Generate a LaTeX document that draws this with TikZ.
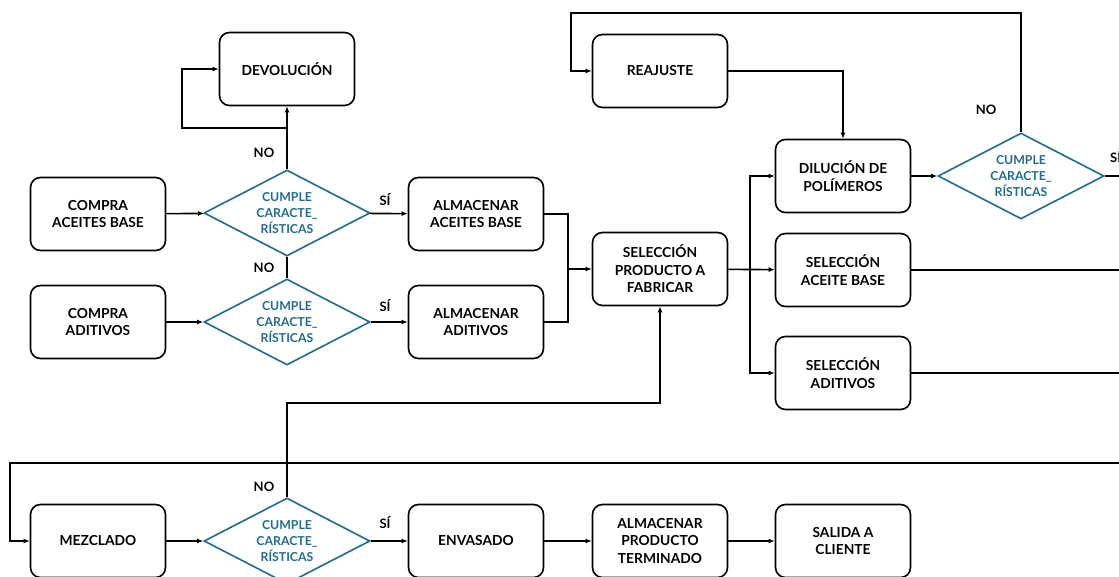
\documentclass[tikz,border=0pt]{standalone}
\usepackage{fontspec}
\setmainfont{Lato}
\usepackage{tikz}
\usetikzlibrary{shapes}
\usetikzlibrary{shapes.geometric}
\usetikzlibrary{arrows.meta}
\definecolor{azulcumple}{RGB}{35,105,140}
\newcommand{\cumple}{CUMPLE\\CARACTE\_\\RÍSTICAS}

\begin{document}
\begin{tikzpicture}[x=1pt, y=-1pt, line width=1.6pt,
    caja/.style={draw, rounded corners=10pt, minimum width=135pt,
      minimum height=73pt, align=center, inner sep=2pt,
      font=\bfseries\fontsize{13.8}{17.5}\selectfont},
    rombo/.style={diamond, draw=azulcumple, aspect=2, inner sep=0pt,
      minimum width=166pt, minimum height=86pt, align=center,
      text=azulcumple, font=\bfseries\fontsize{12.3}{16}\selectfont},
    etiq/.style={font=\bfseries\fontsize{13}{14}\selectfont},
    flecha/.style={-{Latex[length=6pt,width=5pt]}}]

    \useasboundingbox (0,0) rectangle (1119,577);
    \clip (0,0) rectangle (1119,577);

    % compras y control de entrada
    \node[caja] (devol) at (287,69) {DEVOLUCIÓN};
    \node[caja] (compraA) at (98,214) {COMPRA\\ACEITES BASE};
    \node[rombo] (cumpleA) at (287,213) {\cumple};
    \node[caja] (almA) at (476,214) {ALMACENAR\\ACEITES BASE};
    \node[caja] (compraB) at (98,322) {COMPRA\\ADITIVOS};
    \node[rombo] (cumpleB) at (287,322) {\cumple};
    \node[caja] (almB) at (476,322) {ALMACENAR\\ADITIVOS};

    % seleccion y dilucion
    \node[caja] (reaj) at (660,71) {REAJUSTE};
    \node[caja] (selProd) at (660,269) {SELECCIÓN\\PRODUCTO A\\FABRICAR};
    \node[caja] (dilu) at (843,176) {DILUCIÓN DE\\POLÍMEROS};
    \node[rombo] (cumpleC) at (1021,176) {\cumple};
    \node[caja] (selAceite) at (843,270) {SELECCIÓN\\ACEITE BASE};
    \node[caja] (selAdit) at (843,373) {SELECCIÓN\\ADITIVOS};

    % mezclado y salida
    \node[caja] (mezcla) at (98,541) {MEZCLADO};
    \node[rombo] (cumpleD) at (287,541) {\cumple};
    \node[caja] (envas) at (476,541) {ENVASADO};
    \node[caja] (almProd) at (660,541) {ALMACENAR\\PRODUCTO\\TERMINADO};
    \node[caja] (salida) at (843,541) {SALIDA A\\CLIENTE};

    \node[etiq] (noA) at (264,153) {NO};
    \node[etiq] (noB) at (264,268) {NO};
    \node[etiq] (noC) at (986,110) {NO};
    \node[etiq] (noD) at (264,487) {NO};
    \node[etiq] (siA) at (385,200) {SÍ};
    \node[etiq] (siB) at (385,306) {SÍ};
    \node[etiq] (siD) at (385,523) {SÍ};
    \node[etiq, anchor=west] (siC) at (1106,157) {SÍ};

    \coordinate (retA) at (182,128);
    \coordinate (junta) at (568,269);
    \coordinate (reparto) at (750,270);
    \coordinate (arriba) at (571,13);
    \coordinate (codo) at (660,403);
    \coordinate (vuelta) at (10,463);
    \coordinate (finC) at (1125,176);
    \coordinate (finAceite) at (1125,270);
    \coordinate (finAdit) at (1125,373);
    \coordinate (entrada) at (1125,463);

    \foreach \a/\b in {compraA/cumpleA, cumpleA/almA, compraB/cumpleB,
      cumpleB/almB, selProd/selAceite, dilu/cumpleC, mezcla/cumpleD,
      cumpleD/envas, envas/almProd, almProd/salida}
      \draw[flecha] (\a) -- (\b);

    \draw[flecha] (cumpleA.north) -- (devol.south);
    \draw[flecha] (cumpleA.north |- retA) -- (retA) |- (devol.west);
    \draw (cumpleA.south) -- (cumpleB.north);

    \draw[flecha] (almA.east) -| (junta) -- (selProd.west);
    \draw (almB.east) -| (junta);

    \draw[flecha] (reparto) |- (dilu.west);
    \draw[flecha] (reparto) |- (selAdit.west);

    \draw[flecha] (cumpleC.north) |- (arriba) |- (reaj.west);
    \draw[flecha] (reaj.east) -| (dilu.north);
    \draw (cumpleC.east) -- (finC);
    \draw (selAceite.east) -- (finAceite);
    \draw (selAdit.east) -- (finAdit);

    \draw[flecha] (entrada) -- (vuelta) |- (mezcla.west);
    \draw[flecha] (cumpleD.north) |- (codo) -- (selProd.south);

  \end{tikzpicture}
\end{document}
